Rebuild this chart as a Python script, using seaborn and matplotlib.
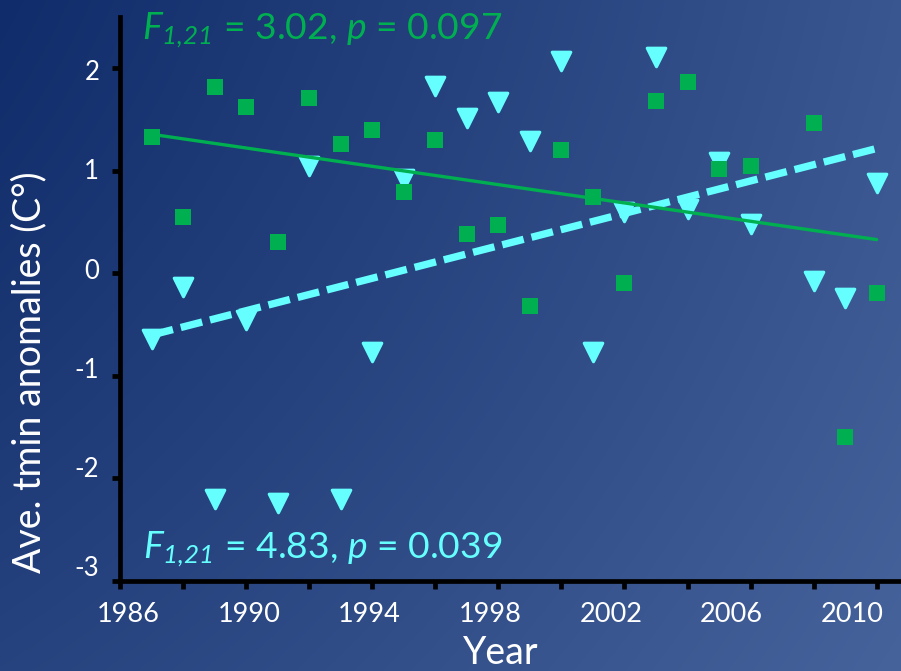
import numpy as np
import pandas as pd
import matplotlib
matplotlib.use("Agg")
import matplotlib.pyplot as plt
import seaborn as sns

# Annual minimum-temperature anomalies (no record for 2007)
years = [1987, 1988, 1989, 1990, 1991, 1992, 1993, 1994, 1995, 1996, 1997, 1998,
         1999, 2000, 2001, 2002, 2003, 2004, 2005, 2006, 2008, 2009, 2010]
green_anom = [1.33, 0.55, 1.81, 1.62, 0.30, 1.71, 1.26, 1.40, 0.79, 1.30, 0.38, 0.47,
              -0.32, 1.20, 0.74, -0.10, 1.68, 1.86, 1.01, 1.04, 1.46, -1.60, -0.19]
cyan_anom = [-0.64, -0.14, -2.20, -0.46, -2.24, 1.04, -2.20, -0.77, 0.92, 1.82, 1.51, 1.67,
             1.29, 2.07, -0.77, 0.60, 2.11, 0.62, 1.08, 0.48, -0.08, -0.24, 0.88]

green_stats = ("3.02", "0.097")
cyan_stats = ("4.83", "0.039")

x_tick_labels = ["1986", "1990", "1994", "1998", "2002", "2006", "2010"]
y_tick_labels = ["-3", "-2", "-1", "0", "1", "2"]

GREEN = "#00b050"
CYAN = "#66ffff"

sns.set_theme(style="white")
plt.rcParams["font.family"] = ["Lato", "DejaVu Sans"]
plt.rcParams["mathtext.fontset"] = "custom"
plt.rcParams["mathtext.rm"] = "Lato:italic"
plt.rcParams["mathtext.it"] = "Lato:italic"

W, H = 901, 671
fig = plt.figure(figsize=(W / 100, H / 100), dpi=100)

# blue gradient backdrop
bg = fig.add_axes([0, 0, 1, 1], zorder=0)
yy, xx = np.mgrid[0:H, 0:W]
d = np.hypot(xx + 600.0, yy + 300.0)
t = (d - d.min()) / (d.max() - d.min())
c0 = np.array([16, 44, 106]) / 255
c1 = np.array([70, 99, 156]) / 255
img = c0 + (c1 - c0) * t[..., None]
bg.imshow(img, aspect="auto", extent=[0, 1, 0, 1], origin="upper")
bg.axis("off")

ax = fig.add_axes([120 / W, (H - 580.7) / H, (W - 120) / W, 564 / H], zorder=1)
ax.set_facecolor("none")

df_cyan = pd.DataFrame({"year": years, "anomaly": cyan_anom})
df_green = pd.DataFrame({"year": years, "anomaly": green_anom})

sns.regplot(data=df_cyan, x="year", y="anomaly", ax=ax, ci=None, marker="v", color=CYAN,
            scatter_kws=dict(s=180, alpha=1, edgecolors=CYAN, linewidths=2.2,
                             joinstyle="round", zorder=2),
            line_kws=dict(linewidth=5.3, dashes=(3, 1.1), dash_capstyle="butt", zorder=3))
sns.regplot(data=df_green, x="year", y="anomaly", ax=ax, ci=None, marker="s", color=GREEN,
            scatter_kws=dict(s=133, alpha=1, linewidths=0, zorder=4),
            line_kws=dict(linewidth=2.4, zorder=5))

ax.set_xlim(1986.02, 2010.77)
ax.set_ylim(-3, 2.5)
ax.set_xlabel("")
ax.set_ylabel("")
ax.grid(False)

for side in ["top", "right"]:
    ax.spines[side].set_visible(False)
for side in ["left", "bottom"]:
    ax.spines[side].set_color("black")
    ax.spines[side].set_linewidth(3.4)

# tick marks on whole degrees, labels spread evenly beside them
ax.set_yticks(np.arange(-3, 3, 1), minor=True)
ax.set_yticks(np.linspace(-2.86, 1.98, len(y_tick_labels)))
ax.set_yticklabels(y_tick_labels)
ax.tick_params(axis="y", which="minor", direction="out", left=True, length=5.8, width=3.4,
               color="black")
ax.tick_params(axis="y", which="major", left=True, length=0, labelcolor="white",
               labelsize=18.5, pad=15)

# tick marks every two years, year labels spread evenly below them
ax.set_xticks(np.arange(1986, 2011, 2), minor=True)
ax.set_xticks(np.linspace(1986.27, 2009.22, len(x_tick_labels)))
ax.set_xticklabels(x_tick_labels)
ax.tick_params(axis="x", which="minor", direction="out", bottom=True, length=5.8, width=3.4,
               color="black")
ax.tick_params(axis="x", which="major", bottom=True, length=0, labelcolor="white",
               labelsize=19.5, pad=15)

ax.text(1986.70, 2.28, f"$F_{{1{{,}}21}}$ = {green_stats[0]}, $p$ = {green_stats[1]}",
        color=GREEN, fontsize=26.8, ha="left", va="baseline")
ax.text(1986.73, -2.78, f"$F_{{1{{,}}21}}$ = {cyan_stats[0]}, $p$ = {cyan_stats[1]}",
        color=CYAN, fontsize=26.8, ha="left", va="baseline")

fig.text(29 / W, 1 - 372 / H, "Ave. tmin anomalies (C°)", rotation=90, color="white",
         fontsize=27, ha="center", va="center")
fig.text(501 / W, 1 - 664 / H, "Year", color="white", fontsize=27, ha="center",
         va="baseline")

fig.savefig("out.png", dpi=100)
